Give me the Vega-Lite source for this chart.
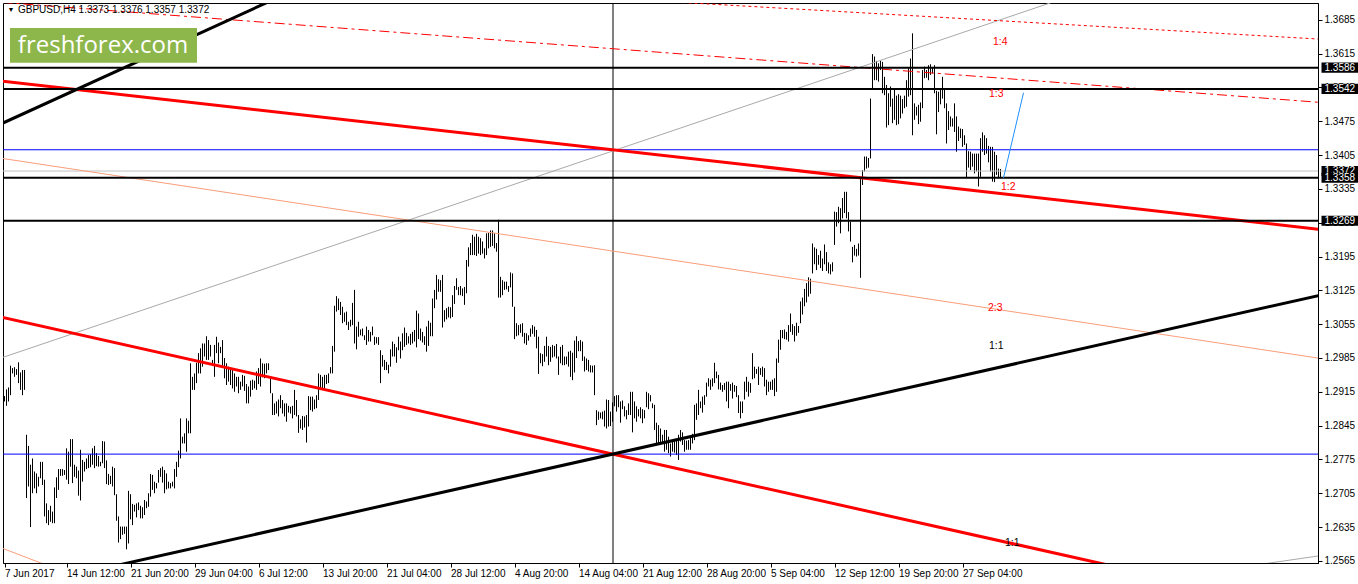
{
  "$schema": "https://vega.github.io/schema/vega-lite/v6.json",
  "width": 1315,
  "height": 560,
  "autosize": "none",
  "padding": {"left": 3, "top": 3, "right": 40, "bottom": 21},
  "background": "white",
  "config": {
    "view": {"stroke": "black", "strokeWidth": 1},
    "axis": {"grid": false, "domainColor": "black", "tickColor": "black", "labelColor": "black", "labelFont": "Liberation Sans", "labelFontSize": 10},
    "text": {"font": "Liberation Sans", "fontSize": 10}
  },
  "datasets": {
    "bars": [
      {"i":0,"p":1.2906,"p2":1.2895},{"i":1,"p":1.2920,"p2":1.2886},{"i":2,"p":1.2924,"p2":1.2895},{"i":3,"p":1.2969,"p2":1.2908},{"i":4,"p":1.2964,"p2":1.2953},
      {"i":5,"p":1.2966,"p2":1.2946},{"i":6,"p":1.2962,"p2":1.2950},{"i":7,"p":1.2976,"p2":1.2933},{"i":8,"p":1.2955,"p2":1.2919},{"i":9,"p":1.2960,"p2":1.2908},
      {"i":10,"p":1.2960,"p2":1.2919},{"i":11,"p":1.2826,"p2":1.2695},{"i":12,"p":1.2803,"p2":1.2719},{"i":13,"p":1.2764,"p2":1.2635},{"i":14,"p":1.2777,"p2":1.2705},
      {"i":15,"p":1.2750,"p2":1.2715},{"i":16,"p":1.2746,"p2":1.2705},{"i":17,"p":1.2739,"p2":1.2719},{"i":18,"p":1.2770,"p2":1.2736},{"i":19,"p":1.2770,"p2":1.2722},
      {"i":20,"p":1.2733,"p2":1.2657},{"i":21,"p":1.2684,"p2":1.2643},{"i":22,"p":1.2670,"p2":1.2639},{"i":23,"p":1.2679,"p2":1.2646},{"i":24,"p":1.2667,"p2":1.2643},
      {"i":25,"p":1.2717,"p2":1.2643},{"i":26,"p":1.2738,"p2":1.2695},{"i":27,"p":1.2755,"p2":1.2712},{"i":28,"p":1.2755,"p2":1.2741},{"i":29,"p":1.2755,"p2":1.2741},
      {"i":30,"p":1.2753,"p2":1.2743},{"i":31,"p":1.2798,"p2":1.2733},{"i":32,"p":1.2791,"p2":1.2724},{"i":33,"p":1.2817,"p2":1.2760},{"i":34,"p":1.2817,"p2":1.2726},
      {"i":35,"p":1.2764,"p2":1.2739},{"i":36,"p":1.2760,"p2":1.2736},{"i":37,"p":1.2752,"p2":1.2700},{"i":38,"p":1.2795,"p2":1.2690},{"i":39,"p":1.2774,"p2":1.2729},
      {"i":40,"p":1.2770,"p2":1.2750},{"i":41,"p":1.2777,"p2":1.2755},{"i":42,"p":1.2784,"p2":1.2757},{"i":43,"p":1.2786,"p2":1.2759},{"i":44,"p":1.2798,"p2":1.2764},
      {"i":45,"p":1.2803,"p2":1.2757},{"i":46,"p":1.2788,"p2":1.2761},{"i":47,"p":1.2782,"p2":1.2760},{"i":48,"p":1.2770,"p2":1.2761},{"i":49,"p":1.2813,"p2":1.2767},
      {"i":50,"p":1.2812,"p2":1.2757},{"i":51,"p":1.2773,"p2":1.2724},{"i":52,"p":1.2745,"p2":1.2722},{"i":53,"p":1.2741,"p2":1.2724},{"i":54,"p":1.2760,"p2":1.2719},
      {"i":55,"p":1.2757,"p2":1.2701},{"i":56,"p":1.2703,"p2":1.2648},{"i":57,"p":1.2657,"p2":1.2603},{"i":58,"p":1.2636,"p2":1.2610},{"i":59,"p":1.2636,"p2":1.2619},
      {"i":60,"p":1.2636,"p2":1.2621},{"i":61,"p":1.2636,"p2":1.2589},{"i":62,"p":1.2710,"p2":1.2601},{"i":63,"p":1.2703,"p2":1.2651},{"i":64,"p":1.2683,"p2":1.2639},
      {"i":65,"p":1.2681,"p2":1.2667},{"i":66,"p":1.2684,"p2":1.2655},{"i":67,"p":1.2686,"p2":1.2670},{"i":68,"p":1.2679,"p2":1.2653},{"i":69,"p":1.2676,"p2":1.2653},
      {"i":70,"p":1.2691,"p2":1.2660},{"i":71,"p":1.2688,"p2":1.2674},{"i":72,"p":1.2705,"p2":1.2677},{"i":73,"p":1.2745,"p2":1.2698},{"i":74,"p":1.2743,"p2":1.2712},
      {"i":75,"p":1.2729,"p2":1.2705},{"i":76,"p":1.2726,"p2":1.2715},{"i":77,"p":1.2753,"p2":1.2727},{"i":78,"p":1.2757,"p2":1.2739},{"i":79,"p":1.2760,"p2":1.2727},
      {"i":80,"p":1.2753,"p2":1.2705},{"i":81,"p":1.2746,"p2":1.2713},{"i":82,"p":1.2729,"p2":1.2715},{"i":83,"p":1.2726,"p2":1.2715},{"i":84,"p":1.2729,"p2":1.2719},
      {"i":85,"p":1.2755,"p2":1.2715},{"i":86,"p":1.2770,"p2":1.2739},{"i":87,"p":1.2793,"p2":1.2759},{"i":88,"p":1.2860,"p2":1.2777},{"i":89,"p":1.2822,"p2":1.2808},
      {"i":90,"p":1.2829,"p2":1.2808},{"i":91,"p":1.2860,"p2":1.2791},{"i":92,"p":1.2855,"p2":1.2829},{"i":93,"p":1.2974,"p2":1.2829},{"i":94,"p":1.2946,"p2":1.2919},
      {"i":95,"p":1.2953,"p2":1.2919},{"i":96,"p":1.2975,"p2":1.2933},{"i":97,"p":1.2995,"p2":1.2953},{"i":98,"p":1.3005,"p2":1.2953},{"i":99,"p":1.3015,"p2":1.2967},
      {"i":100,"p":1.3015,"p2":1.2988},{"i":101,"p":1.3030,"p2":1.2981},{"i":102,"p":1.3022,"p2":1.2981},{"i":103,"p":1.3012,"p2":1.2988},{"i":104,"p":1.2981,"p2":1.2974},
      {"i":105,"p":1.3012,"p2":1.2946},{"i":106,"p":1.3029,"p2":1.2995},{"i":107,"p":1.3017,"p2":1.2974},{"i":108,"p":1.3008,"p2":1.2995},{"i":109,"p":1.3022,"p2":1.2967},
      {"i":110,"p":1.2985,"p2":1.2943},{"i":111,"p":1.2974,"p2":1.2929},{"i":112,"p":1.2967,"p2":1.2936},{"i":113,"p":1.2964,"p2":1.2929},{"i":114,"p":1.2960,"p2":1.2922},
      {"i":115,"p":1.2953,"p2":1.2915},{"i":116,"p":1.2946,"p2":1.2926},{"i":117,"p":1.2946,"p2":1.2912},{"i":118,"p":1.2936,"p2":1.2919},{"i":119,"p":1.2950,"p2":1.2926},
      {"i":120,"p":1.2948,"p2":1.2917},{"i":121,"p":1.2931,"p2":1.2891},{"i":122,"p":1.2926,"p2":1.2891},{"i":123,"p":1.2938,"p2":1.2905},{"i":124,"p":1.2940,"p2":1.2919},
      {"i":125,"p":1.2938,"p2":1.2922},{"i":126,"p":1.2957,"p2":1.2919},{"i":127,"p":1.2964,"p2":1.2931},{"i":128,"p":1.2984,"p2":1.2926},{"i":129,"p":1.2974,"p2":1.2945},
      {"i":130,"p":1.2973,"p2":1.2943},{"i":131,"p":1.2974,"p2":1.2953},{"i":132,"p":1.2974,"p2":1.2960},{"i":133,"p":1.2946,"p2":1.2912},{"i":134,"p":1.2912,"p2":1.2867},
      {"i":135,"p":1.2891,"p2":1.2867},{"i":136,"p":1.2895,"p2":1.2870},{"i":137,"p":1.2899,"p2":1.2864},{"i":138,"p":1.2908,"p2":1.2881},{"i":139,"p":1.2898,"p2":1.2870},
      {"i":140,"p":1.2891,"p2":1.2864},{"i":141,"p":1.2891,"p2":1.2853},{"i":142,"p":1.2886,"p2":1.2872},{"i":143,"p":1.2884,"p2":1.2870},{"i":144,"p":1.2886,"p2":1.2860},
      {"i":145,"p":1.2919,"p2":1.2867},{"i":146,"p":1.2898,"p2":1.2864},{"i":147,"p":1.2867,"p2":1.2830},{"i":148,"p":1.2858,"p2":1.2839},{"i":149,"p":1.2865,"p2":1.2836},
      {"i":150,"p":1.2864,"p2":1.2841},{"i":151,"p":1.2867,"p2":1.2810},{"i":152,"p":1.2906,"p2":1.2843},{"i":153,"p":1.2905,"p2":1.2877},{"i":154,"p":1.2905,"p2":1.2874},
      {"i":155,"p":1.2899,"p2":1.2879},{"i":156,"p":1.2908,"p2":1.2881},{"i":157,"p":1.2953,"p2":1.2898},{"i":158,"p":1.2950,"p2":1.2919},{"i":159,"p":1.2946,"p2":1.2922},
      {"i":160,"p":1.2950,"p2":1.2922},{"i":161,"p":1.2950,"p2":1.2931},{"i":162,"p":1.2953,"p2":1.2933},{"i":163,"p":1.2966,"p2":1.2953},{"i":164,"p":1.3010,"p2":1.2953},
      {"i":165,"p":1.3093,"p2":1.2998},{"i":166,"p":1.3113,"p2":1.3081},{"i":167,"p":1.3108,"p2":1.3084},{"i":168,"p":1.3101,"p2":1.3074},{"i":169,"p":1.3091,"p2":1.3057},
      {"i":170,"p":1.3079,"p2":1.3060},{"i":171,"p":1.3081,"p2":1.3053},{"i":172,"p":1.3060,"p2":1.3043},{"i":173,"p":1.3064,"p2":1.3050},{"i":174,"p":1.3099,"p2":1.3053},
      {"i":175,"p":1.3126,"p2":1.3015},{"i":176,"p":1.3050,"p2":1.3003},{"i":177,"p":1.3060,"p2":1.3029},{"i":178,"p":1.3044,"p2":1.3032},{"i":179,"p":1.3046,"p2":1.3030},
      {"i":180,"p":1.3032,"p2":1.3022},{"i":181,"p":1.3050,"p2":1.3012},{"i":182,"p":1.3043,"p2":1.3019},{"i":183,"p":1.3039,"p2":1.3019},{"i":184,"p":1.3050,"p2":1.3032},
      {"i":185,"p":1.3029,"p2":1.3012},{"i":186,"p":1.3028,"p2":1.3015},{"i":187,"p":1.3028,"p2":1.3012},{"i":188,"p":1.3001,"p2":1.2933},{"i":189,"p":1.2991,"p2":1.2967},
      {"i":190,"p":1.2981,"p2":1.2960},{"i":191,"p":1.2977,"p2":1.2960},{"i":192,"p":1.2971,"p2":1.2953},{"i":193,"p":1.3003,"p2":1.2967},{"i":194,"p":1.3019,"p2":1.2988},
      {"i":195,"p":1.3014,"p2":1.2988},{"i":196,"p":1.3007,"p2":1.2975},{"i":197,"p":1.3029,"p2":1.3001},{"i":198,"p":1.3019,"p2":1.2984},{"i":199,"p":1.3036,"p2":1.3001},
      {"i":200,"p":1.3048,"p2":1.3008},{"i":201,"p":1.3037,"p2":1.3012},{"i":202,"p":1.3030,"p2":1.3015},{"i":203,"p":1.3035,"p2":1.3012},{"i":204,"p":1.3039,"p2":1.3015},
      {"i":205,"p":1.3043,"p2":1.3019},{"i":206,"p":1.3083,"p2":1.3007},{"i":207,"p":1.3077,"p2":1.3024},{"i":208,"p":1.3046,"p2":1.3021},{"i":209,"p":1.3039,"p2":1.3017},
      {"i":210,"p":1.3030,"p2":1.3012},{"i":211,"p":1.3050,"p2":1.2998},{"i":212,"p":1.3062,"p2":1.3010},{"i":213,"p":1.3058,"p2":1.3030},{"i":214,"p":1.3108,"p2":1.3030},
      {"i":215,"p":1.3126,"p2":1.3088},{"i":216,"p":1.3157,"p2":1.3106},{"i":217,"p":1.3148,"p2":1.3122},{"i":218,"p":1.3146,"p2":1.3122},{"i":219,"p":1.3157,"p2":1.3048},
      {"i":220,"p":1.3084,"p2":1.3060},{"i":221,"p":1.3088,"p2":1.3065},{"i":222,"p":1.3091,"p2":1.3069},{"i":223,"p":1.3090,"p2":1.3067},{"i":224,"p":1.3115,"p2":1.3070},
      {"i":225,"p":1.3134,"p2":1.3097},{"i":226,"p":1.3150,"p2":1.3126},{"i":227,"p":1.3132,"p2":1.3115},{"i":228,"p":1.3134,"p2":1.3115},{"i":229,"p":1.3129,"p2":1.3113},
      {"i":230,"p":1.3132,"p2":1.3095},{"i":231,"p":1.3188,"p2":1.3119},{"i":232,"p":1.3214,"p2":1.3174},{"i":233,"p":1.3223,"p2":1.3198},{"i":234,"p":1.3240,"p2":1.3198},
      {"i":235,"p":1.3236,"p2":1.3198},{"i":236,"p":1.3242,"p2":1.3196},{"i":237,"p":1.3236,"p2":1.3201},{"i":238,"p":1.3233,"p2":1.3198},{"i":239,"p":1.3226,"p2":1.3201},
      {"i":240,"p":1.3212,"p2":1.3191},{"i":241,"p":1.3243,"p2":1.3198},{"i":242,"p":1.3244,"p2":1.3212},{"i":243,"p":1.3249,"p2":1.3215},{"i":244,"p":1.3249,"p2":1.3217},
      {"i":245,"p":1.3243,"p2":1.3212},{"i":246,"p":1.3223,"p2":1.3205},{"i":247,"p":1.3271,"p2":1.3110},{"i":248,"p":1.3153,"p2":1.3110},{"i":249,"p":1.3146,"p2":1.3115},
      {"i":250,"p":1.3143,"p2":1.3126},{"i":251,"p":1.3143,"p2":1.3127},{"i":252,"p":1.3134,"p2":1.3122},{"i":253,"p":1.3162,"p2":1.3131},{"i":254,"p":1.3160,"p2":1.3091},
      {"i":255,"p":1.3091,"p2":1.3024},{"i":256,"p":1.3057,"p2":1.3030},{"i":257,"p":1.3053,"p2":1.3032},{"i":258,"p":1.3055,"p2":1.3037},{"i":259,"p":1.3057,"p2":1.3029},
      {"i":260,"p":1.3037,"p2":1.3015},{"i":261,"p":1.3036,"p2":1.3012},{"i":262,"p":1.3032,"p2":1.3021},{"i":263,"p":1.3046,"p2":1.3029},{"i":264,"p":1.3053,"p2":1.3035},
      {"i":265,"p":1.3050,"p2":1.3029},{"i":266,"p":1.3043,"p2":1.3005},{"i":267,"p":1.3029,"p2":1.2952},{"i":268,"p":1.2995,"p2":1.2974},{"i":269,"p":1.2993,"p2":1.2968},
      {"i":270,"p":1.3010,"p2":1.2977},{"i":271,"p":1.3029,"p2":1.2988},{"i":272,"p":1.3010,"p2":1.2970},{"i":273,"p":1.3008,"p2":1.2977},{"i":274,"p":1.3012,"p2":1.2986},
      {"i":275,"p":1.3010,"p2":1.2988},{"i":276,"p":1.3014,"p2":1.2984},{"i":277,"p":1.2988,"p2":1.2950},{"i":278,"p":1.3008,"p2":1.2974},{"i":279,"p":1.3012,"p2":1.2970},
      {"i":280,"p":1.2988,"p2":1.2970},{"i":281,"p":1.2988,"p2":1.2972},{"i":282,"p":1.2998,"p2":1.2967},{"i":283,"p":1.3000,"p2":1.2946},{"i":284,"p":1.2996,"p2":1.2939},
      {"i":285,"p":1.3021,"p2":1.2955},{"i":286,"p":1.3030,"p2":1.2985},{"i":287,"p":1.3020,"p2":1.2999},{"i":288,"p":1.3022,"p2":1.2999},{"i":289,"p":1.3019,"p2":1.2979},
      {"i":290,"p":1.2988,"p2":1.2957},{"i":291,"p":1.2984,"p2":1.2960},{"i":292,"p":1.2981,"p2":1.2957},{"i":293,"p":1.2970,"p2":1.2955},{"i":294,"p":1.2969,"p2":1.2955},
      {"i":295,"p":1.2970,"p2":1.2908},{"i":296,"p":1.2877,"p2":1.2846},{"i":297,"p":1.2874,"p2":1.2857},{"i":298,"p":1.2872,"p2":1.2860},{"i":299,"p":1.2874,"p2":1.2858},
      {"i":300,"p":1.2876,"p2":1.2843},{"i":301,"p":1.2899,"p2":1.2839},{"i":302,"p":1.2898,"p2":1.2843},{"i":303,"p":1.2874,"p2":1.2844},{"i":304,"p":1.2893,"p2":1.2853},
      {"i":305,"p":1.2906,"p2":1.2885},{"i":306,"p":1.2908,"p2":1.2874},{"i":307,"p":1.2908,"p2":1.2883},{"i":308,"p":1.2895,"p2":1.2851},{"i":309,"p":1.2897,"p2":1.2879},
      {"i":310,"p":1.2885,"p2":1.2864},{"i":311,"p":1.2877,"p2":1.2858},{"i":312,"p":1.2891,"p2":1.2867},{"i":313,"p":1.2915,"p2":1.2867},{"i":314,"p":1.2915,"p2":1.2831},
      {"i":315,"p":1.2895,"p2":1.2860},{"i":316,"p":1.2885,"p2":1.2853},{"i":317,"p":1.2879,"p2":1.2864},{"i":318,"p":1.2883,"p2":1.2860},{"i":319,"p":1.2879,"p2":1.2850},
      {"i":320,"p":1.2877,"p2":1.2860},{"i":321,"p":1.2915,"p2":1.2883},{"i":322,"p":1.2912,"p2":1.2879},{"i":323,"p":1.2908,"p2":1.2895},{"i":324,"p":1.2891,"p2":1.2881},
      {"i":325,"p":1.2888,"p2":1.2836},{"i":326,"p":1.2851,"p2":1.2808},{"i":327,"p":1.2846,"p2":1.2808},{"i":328,"p":1.2839,"p2":1.2808},{"i":329,"p":1.2826,"p2":1.2808},
      {"i":330,"p":1.2836,"p2":1.2791},{"i":331,"p":1.2836,"p2":1.2795},{"i":332,"p":1.2822,"p2":1.2788},{"i":333,"p":1.2808,"p2":1.2781},{"i":334,"p":1.2815,"p2":1.2791},
      {"i":335,"p":1.2815,"p2":1.2789},{"i":336,"p":1.2815,"p2":1.2784},{"i":337,"p":1.2826,"p2":1.2774},{"i":338,"p":1.2836,"p2":1.2812},{"i":339,"p":1.2831,"p2":1.2805},
      {"i":340,"p":1.2815,"p2":1.2791},{"i":341,"p":1.2814,"p2":1.2795},{"i":342,"p":1.2815,"p2":1.2795},{"i":343,"p":1.2822,"p2":1.2795},{"i":344,"p":1.2828,"p2":1.2808},
      {"i":345,"p":1.2888,"p2":1.2815},{"i":346,"p":1.2891,"p2":1.2857},{"i":347,"p":1.2919,"p2":1.2867},{"i":348,"p":1.2895,"p2":1.2881},{"i":349,"p":1.2905,"p2":1.2872},
      {"i":350,"p":1.2908,"p2":1.2888},{"i":351,"p":1.2934,"p2":1.2905},{"i":352,"p":1.2943,"p2":1.2926},{"i":353,"p":1.2940,"p2":1.2919},{"i":354,"p":1.2943,"p2":1.2926},
      {"i":355,"p":1.2975,"p2":1.2933},{"i":356,"p":1.2957,"p2":1.2943},{"i":357,"p":1.2950,"p2":1.2920},{"i":358,"p":1.2934,"p2":1.2919},{"i":359,"p":1.2929,"p2":1.2915},
      {"i":360,"p":1.2933,"p2":1.2919},{"i":361,"p":1.2936,"p2":1.2895},{"i":362,"p":1.2936,"p2":1.2881},{"i":363,"p":1.2931,"p2":1.2917},{"i":364,"p":1.2934,"p2":1.2901},
      {"i":365,"p":1.2929,"p2":1.2915},{"i":366,"p":1.2927,"p2":1.2904},{"i":367,"p":1.2908,"p2":1.2871},{"i":368,"p":1.2895,"p2":1.2860},{"i":369,"p":1.2895,"p2":1.2871},
      {"i":370,"p":1.2936,"p2":1.2899},{"i":371,"p":1.2946,"p2":1.2915},{"i":372,"p":1.2936,"p2":1.2905},{"i":373,"p":1.2933,"p2":1.2913},{"i":374,"p":1.2995,"p2":1.2941},
      {"i":375,"p":1.2967,"p2":1.2943},{"i":376,"p":1.2962,"p2":1.2952},{"i":377,"p":1.2967,"p2":1.2929},{"i":378,"p":1.2964,"p2":1.2950},{"i":379,"p":1.2967,"p2":1.2946},
      {"i":380,"p":1.2964,"p2":1.2926},{"i":381,"p":1.2940,"p2":1.2908},{"i":382,"p":1.2936,"p2":1.2915},{"i":383,"p":1.2936,"p2":1.2919},{"i":384,"p":1.2940,"p2":1.2919},
      {"i":385,"p":1.2943,"p2":1.2906},{"i":386,"p":1.2984,"p2":1.2915},{"i":387,"p":1.3023,"p2":1.2975},{"i":388,"p":1.3043,"p2":1.3002},{"i":389,"p":1.3043,"p2":1.3026},
      {"i":390,"p":1.3044,"p2":1.3024},{"i":391,"p":1.3039,"p2":1.3023},{"i":392,"p":1.3053,"p2":1.3019},{"i":393,"p":1.3077,"p2":1.3039},{"i":394,"p":1.3055,"p2":1.3033},
      {"i":395,"p":1.3051,"p2":1.3019},{"i":396,"p":1.3058,"p2":1.3031},{"i":397,"p":1.3051,"p2":1.3037},{"i":398,"p":1.3102,"p2":1.3057},{"i":399,"p":1.3110,"p2":1.3075},
      {"i":400,"p":1.3128,"p2":1.3092},{"i":401,"p":1.3140,"p2":1.3100},{"i":402,"p":1.3152,"p2":1.3112},{"i":403,"p":1.3149,"p2":1.3118},{"i":404,"p":1.3222,"p2":1.3160},
      {"i":405,"p":1.3214,"p2":1.3179},{"i":406,"p":1.3211,"p2":1.3167},{"i":407,"p":1.3198,"p2":1.3178},{"i":408,"p":1.3207,"p2":1.3171},{"i":409,"p":1.3191,"p2":1.3165},
      {"i":410,"p":1.3220,"p2":1.3179},{"i":411,"p":1.3204,"p2":1.3165},{"i":412,"p":1.3183,"p2":1.3160},{"i":413,"p":1.3179,"p2":1.3158},{"i":414,"p":1.3183,"p2":1.3164},
      {"i":415,"p":1.3288,"p2":1.3219},{"i":416,"p":1.3287,"p2":1.3257},{"i":417,"p":1.3298,"p2":1.3264},{"i":418,"p":1.3295,"p2":1.3243},{"i":419,"p":1.3316,"p2":1.3274},
      {"i":420,"p":1.3329,"p2":1.3285},{"i":421,"p":1.3329,"p2":1.3274},{"i":422,"p":1.3287,"p2":1.3247},{"i":423,"p":1.3267,"p2":1.3226},{"i":424,"p":1.3215,"p2":1.3183},
      {"i":425,"p":1.3219,"p2":1.3197},{"i":426,"p":1.3211,"p2":1.3195},{"i":427,"p":1.3222,"p2":1.3197},{"i":428,"p":1.3357,"p2":1.3151},{"i":429,"p":1.3374,"p2":1.3343},
      {"i":430,"p":1.3402,"p2":1.3371},{"i":431,"p":1.3402,"p2":1.3377},{"i":432,"p":1.3399,"p2":1.3379},{"i":433,"p":1.3522,"p2":1.3398},{"i":434,"p":1.3614,"p2":1.3543},
      {"i":435,"p":1.3609,"p2":1.3560},{"i":436,"p":1.3600,"p2":1.3560},{"i":437,"p":1.3595,"p2":1.3557},{"i":438,"p":1.3600,"p2":1.3581},{"i":439,"p":1.3598,"p2":1.3533},
      {"i":440,"p":1.3567,"p2":1.3529},{"i":441,"p":1.3550,"p2":1.3462},{"i":442,"p":1.3533,"p2":1.3467},{"i":443,"p":1.3547,"p2":1.3505},{"i":444,"p":1.3522,"p2":1.3471},
      {"i":445,"p":1.3543,"p2":1.3478},{"i":446,"p":1.3528,"p2":1.3467},{"i":447,"p":1.3531,"p2":1.3469},{"i":448,"p":1.3528,"p2":1.3481},{"i":449,"p":1.3521,"p2":1.3491},
      {"i":450,"p":1.3528,"p2":1.3502},{"i":451,"p":1.3560,"p2":1.3505},{"i":452,"p":1.3585,"p2":1.3526},{"i":453,"p":1.3605,"p2":1.3529},{"i":454,"p":1.3657,"p2":1.3446},
      {"i":455,"p":1.3512,"p2":1.3478},{"i":456,"p":1.3505,"p2":1.3487},{"i":457,"p":1.3509,"p2":1.3469},{"i":458,"p":1.3514,"p2":1.3474},{"i":459,"p":1.3581,"p2":1.3502},
      {"i":460,"p":1.3588,"p2":1.3564},{"i":461,"p":1.3581,"p2":1.3565},{"i":462,"p":1.3591,"p2":1.3560},{"i":463,"p":1.3593,"p2":1.3571},{"i":464,"p":1.3586,"p2":1.3574},
      {"i":465,"p":1.3591,"p2":1.3533},{"i":466,"p":1.3538,"p2":1.3448},{"i":467,"p":1.3536,"p2":1.3494},{"i":468,"p":1.3542,"p2":1.3510},{"i":469,"p":1.3567,"p2":1.3522},
      {"i":470,"p":1.3540,"p2":1.3502},{"i":471,"p":1.3512,"p2":1.3429},{"i":472,"p":1.3496,"p2":1.3457},{"i":473,"p":1.3485,"p2":1.3464},{"i":474,"p":1.3481,"p2":1.3464},
      {"i":475,"p":1.3512,"p2":1.3453},{"i":476,"p":1.3485,"p2":1.3412},{"i":477,"p":1.3464,"p2":1.3434},{"i":478,"p":1.3460,"p2":1.3440},{"i":479,"p":1.3459,"p2":1.3422},
      {"i":480,"p":1.3446,"p2":1.3426},{"i":481,"p":1.3429,"p2":1.3358},{"i":482,"p":1.3413,"p2":1.3379},{"i":483,"p":1.3412,"p2":1.3374},{"i":484,"p":1.3408,"p2":1.3381},
      {"i":485,"p":1.3408,"p2":1.3367},{"i":486,"p":1.3408,"p2":1.3371},{"i":487,"p":1.3408,"p2":1.3340},{"i":488,"p":1.3440,"p2":1.3360},{"i":489,"p":1.3452,"p2":1.3412},
      {"i":490,"p":1.3446,"p2":1.3405},{"i":491,"p":1.3440,"p2":1.3408},{"i":492,"p":1.3424,"p2":1.3390},{"i":493,"p":1.3422,"p2":1.3371},{"i":494,"p":1.3422,"p2":1.3350},
      {"i":495,"p":1.3412,"p2":1.3349},{"i":496,"p":1.3405,"p2":1.3364},{"i":497,"p":1.3377,"p2":1.3357},{"i":498,"p":1.3376,"p2":1.3357}
    ]
  },
  "encoding": {
    "x": {"field": "i", "type": "quantitative", "scale": {"domain": [-0.75, 656.75], "nice": false, "zero": false},
      "axis": {"title": null, "values": [0,31,63,95,127,159,191,223,255,287,319,351,383,415,447,479],
        "labelExpr": "['7 Jun 2017','14 Jun 12:00','21 Jun 20:00','29 Jun 04:00','6 Jul 12:00','13 Jul 20:00','21 Jul 04:00','28 Jul 12:00','4 Aug 20:00','14 Aug 04:00','21 Aug 12:00','28 Aug 20:00','5 Sep 04:00','12 Sep 12:00','19 Sep 20:00','27 Sep 04:00'][indexof([0,31,63,95,127,159,191,223,255,287,319,351,383,415,447,479], datum.value)]",
        "labelAlign": "left", "labelBaseline": "top", "labelPadding": 1, "tickSize": 4, "labelFlush": false, "labelOverlap": false, "labelBound": false}},
    "y": {"field": "p", "type": "quantitative", "scale": {"domain": [1.25606, 1.37198], "nice": false, "zero": false},
      "axis": {"title": null, "orient": "right", "values": [1.2565,1.2635,1.2705,1.2775,1.2845,1.2915,1.2985,1.3055,1.3125,1.3195,1.3265,1.3335,1.3405,1.3475,1.3545,1.3615,1.3685],
        "format": ".4f", "tickSize": 4, "labelPadding": 2, "labelAlign": "left", "labelBaseline": "middle", "labelFlush": false, "labelOverlap": false, "labelBound": false}}
  },
  "layer": [
    {
      "data": {"name": "bars"},
      "mark": {"type": "rule", "color": "black", "strokeWidth": 1},
      "encoding": {"y2": {"field": "p2"}}
    },
    {
      "data": {"values": [{"i": -1, "i2": 658, "p": 1.3416, "p2": 1.3416}, {"i": -1, "i2": 658, "p": 1.2786, "p2": 1.2786}]},
      "mark": {"type": "rule", "color": "#0000ff", "strokeWidth": 1, "clip": true},
      "encoding": {"x2": {"field": "i2"}, "y2": {"field": "p2"}}
    },
    {
      "data": {"values": [{"i": -1, "i2": 658, "p": 1.3372, "p2": 1.3372}]},
      "mark": {"type": "rule", "color": "#c0c0c0", "strokeWidth": 1, "clip": true},
      "encoding": {"x2": {"field": "i2"}, "y2": {"field": "p2"}}
    },
    {
      "data": {"values": [{"i": 304.25, "i2": 304.25, "p": 1.25, "p2": 1.38}]},
      "mark": {"type": "rule", "color": "black", "strokeWidth": 1, "clip": true},
      "encoding": {"x2": {"field": "i2"}, "y2": {"field": "p2"}}
    },
    {
      "data": {"values": [{"i": -1, "p": 1.2986, "i2": 545, "p2": 1.3751}, {"i": 620, "p": 1.2553, "i2": 660, "p2": 1.2577}]},
      "mark": {"type": "rule", "color": "#a9a9a9", "strokeWidth": 1, "clip": true},
      "encoding": {"x2": {"field": "i2"}, "y2": {"field": "p2"}}
    },
    {
      "data": {"values": [{"i": -1, "p": 1.3398, "i2": 658, "p2": 1.2984}, {"i": -1, "p": 1.2591, "i2": 23, "p2": 1.2553}]},
      "mark": {"type": "rule", "color": "#fa9d7a", "strokeWidth": 1, "clip": true},
      "encoding": {"x2": {"field": "i2"}, "y2": {"field": "p2"}}
    },
    {
      "data": {"values": [{"i": -1, "p": 1.3721, "i2": 658, "p2": 1.3514}]},
      "mark": {"type": "rule", "color": "#ff0000", "strokeWidth": 1, "strokeDash": [10, 4, 3, 4], "clip": true},
      "encoding": {"x2": {"field": "i2"}, "y2": {"field": "p2"}}
    },
    {
      "data": {"values": [{"i": 330, "p": 1.3723, "i2": 658, "p2": 1.3645}]},
      "mark": {"type": "rule", "color": "#ff0000", "strokeWidth": 1, "strokeDash": [3, 3], "clip": true},
      "encoding": {"x2": {"field": "i2"}, "y2": {"field": "p2"}}
    },
    {
      "data": {"values": [{"i": -1, "p": 1.3558, "i2": 658, "p2": 1.3251}, {"i": -1, "p": 1.3069, "i2": 563, "p2": 1.2546}]},
      "mark": {"type": "rule", "color": "#ff0000", "strokeWidth": 3, "clip": true},
      "encoding": {"x2": {"field": "i2"}, "y2": {"field": "p2"}}
    },
    {
      "data": {"values": [{"i": -2, "p": 1.3469, "i2": 143, "p2": 1.3743}, {"i": 48, "p": 1.2548, "i2": 658, "p2": 1.3115}]},
      "mark": {"type": "rule", "color": "black", "strokeWidth": 3, "clip": true},
      "encoding": {"x2": {"field": "i2"}, "y2": {"field": "p2"}}
    },
    {
      "data": {"values": [
        {"i": -1, "i2": 658, "p": 1.3586, "p2": 1.3586},
        {"i": -1, "i2": 658, "p": 1.3542, "p2": 1.3542},
        {"i": -1, "i2": 658, "p": 1.3358, "p2": 1.3358},
        {"i": -1, "i2": 658, "p": 1.3269, "p2": 1.3269}
      ]},
      "mark": {"type": "rule", "color": "black", "strokeWidth": 2, "clip": true},
      "encoding": {"x2": {"field": "i2"}, "y2": {"field": "p2"}}
    },
    {
      "data": {"values": [{"i": 499.5, "p": 1.3358, "i2": 509.5, "p2": 1.3534}]},
      "mark": {"type": "rule", "color": "#1e90ff", "strokeWidth": 1, "clip": true},
      "encoding": {"x2": {"field": "i2"}, "y2": {"field": "p2"}}
    },
    {
      "data": {"values": [
        {"i": 494.25, "p": 1.3639, "t": "1:4"},
        {"i": 492.25, "p": 1.3531, "t": "1:3"},
        {"i": 498.25, "p": 1.3339, "t": "1:2"},
        {"i": 491.75, "p": 1.3088, "t": "2:3"}
      ]},
      "mark": {"type": "text", "color": "#ff0000", "align": "left", "baseline": "middle", "fontSize": 10.5},
      "encoding": {"text": {"field": "t"}}
    },
    {
      "data": {"values": [
        {"i": 492.25, "p": 1.3010, "t": "1:1"},
        {"i": 500.25, "p": 1.2602, "t": "1:1"}
      ]},
      "mark": {"type": "text", "color": "black", "align": "left", "baseline": "middle", "fontSize": 10.5},
      "encoding": {"text": {"field": "t"}}
    },
    {
      "data": {"values": [{"i": 2.75, "p": 1.3668, "i2": 96.25, "p2": 1.3596}]},
      "mark": {"type": "rect", "color": "#8db64b"},
      "encoding": {"x2": {"field": "i2"}, "y2": {"field": "p2"}}
    },
    {
      "data": {"values": [{"i": 49.25, "p": 1.3617, "t": "freshforex.com"}]},
      "mark": {"type": "text", "color": "white", "font": "Open Sans", "fontSize": 24, "align": "center", "baseline": "alphabetic"},
      "encoding": {"text": {"field": "t"}}
    },
    {
      "data": {"values": [{"i": 1.5, "p": 1.3706, "t": "▼"}]},
      "mark": {"type": "text", "color": "black", "fontSize": 7, "align": "left", "baseline": "middle"},
      "encoding": {"text": {"field": "t"}}
    },
    {
      "data": {"values": [{"i": 6.75, "p": 1.3705, "t": "GBPUSD,H4  1.3373 1.3376 1.3357 1.3372"}]},
      "mark": {"type": "text", "color": "black", "align": "left", "baseline": "middle"},
      "encoding": {"text": {"field": "t"}}
    },
    {
      "data": {"values": [
        {"i": 658.5, "i2": 677, "p": 1.35965, "p2": 1.35755},
        {"i": 658.5, "i2": 677, "p": 1.35525, "p2": 1.35315},
        {"i": 658.5, "i2": 677, "p": 1.33825, "p2": 1.33615},
        {"i": 658.5, "i2": 677, "p": 1.32795, "p2": 1.32585}
      ]},
      "mark": {"type": "rect", "color": "black"},
      "encoding": {"x2": {"field": "i2"}, "y2": {"field": "p2"}}
    },
    {
      "data": {"values": [
        {"i": 658.5, "p": 1.3586, "t": "1.3586"},
        {"i": 658.5, "p": 1.3542, "t": "1.3542"},
        {"i": 658.5, "p": 1.3372, "t": "1.3372"},
        {"i": 658.5, "p": 1.3269, "t": "1.3269"}
      ]},
      "mark": {"type": "text", "color": "white", "align": "left", "baseline": "middle", "dx": 3},
      "encoding": {"text": {"field": "t"}}
    },
    {
      "data": {"values": [{"i": 658.5, "i2": 677, "p": 1.33685, "p2": 1.33475}]},
      "mark": {"type": "rect", "color": "black"},
      "encoding": {"x2": {"field": "i2"}, "y2": {"field": "p2"}}
    },
    {
      "data": {"values": [{"i": 658.5, "p": 1.3358, "t": "1.3358"}]},
      "mark": {"type": "text", "color": "white", "align": "left", "baseline": "middle", "dx": 3},
      "encoding": {"text": {"field": "t"}}
    }
  ]
}
